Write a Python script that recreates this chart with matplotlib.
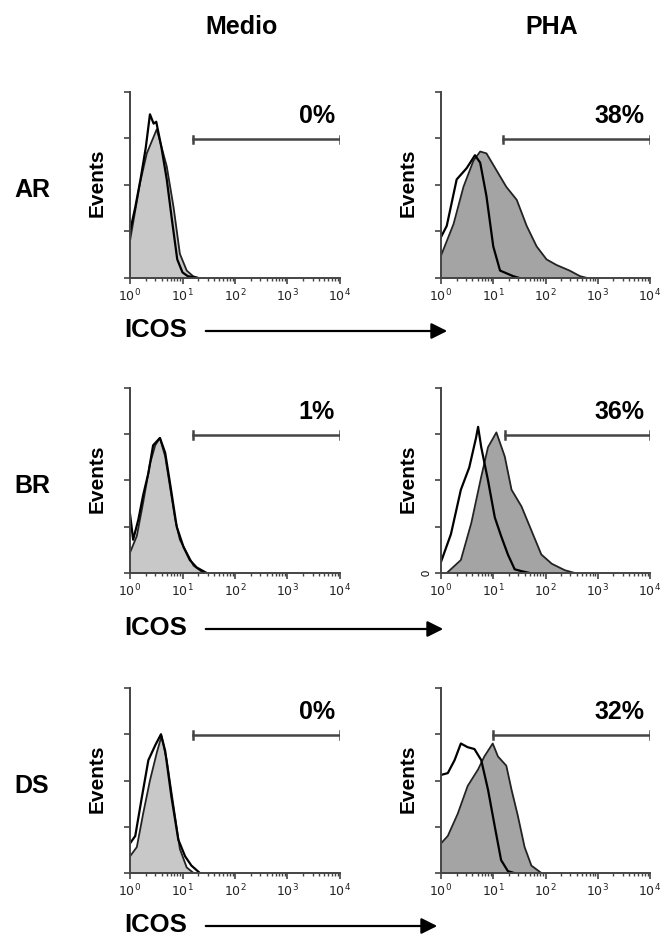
import matplotlib
matplotlib.use("Agg")
import matplotlib.pyplot as plt
import numpy as np

plt.rcParams["font.family"] = ["Liberation Sans", "DejaVu Sans"]

W, H = 663, 938

columns = ["Medio", "PHA"]
rows = ["AR", "BR", "DS"]
percentages = [["0%", "38%"], ["1%", "36%"], ["0%", "32%"]]
gate_start = [[1.2, 1.19], [1.2, 1.22], [1.2, 1.0]]   # log10 of gate start
zero_label = [[False, False], [False, True], [False, False]]

# histogram outlines: log10(ICOS) positions and % of max events
# AR
ar_medio_fill_x = [0.0, 0.19, 0.32, 0.51, 0.70, 0.83, 0.95, 1.08, 1.2, 1.3]
ar_medio_fill_y = [20, 51, 67, 80, 60, 38, 13, 4, 1, 0]
ar_medio_open_x = [0.0, 0.1, 0.2, 0.3, 0.38, 0.45, 0.5, 0.6, 0.7, 0.8, 0.9, 1.0, 1.1, 1.3]
ar_medio_open_y = [25, 38, 53, 70, 88, 83, 84, 70, 53, 31, 10, 3, 1, 0]
ar_pha_fill_x = [0.0, 0.24, 0.43, 0.62, 0.75, 0.87, 1.06, 1.25, 1.45, 1.64, 1.83, 2.02, 2.21, 2.46, 2.66, 2.8]
ar_pha_fill_y = [12, 29, 49, 63, 68, 67, 58, 49, 42, 28, 17, 10, 7, 4, 1, 0]
ar_pha_open_x = [0.0, 0.11, 0.3, 0.49, 0.65, 0.75, 0.87, 1.0, 1.13, 1.38, 1.5]
ar_pha_open_y = [22, 28, 53, 59, 66, 62, 44, 17, 4, 1, 0]
# BR
br_medio_fill_x = [0.0, 0.13, 0.25, 0.38, 0.48, 0.57, 0.67, 0.76, 0.86, 0.95, 1.08, 1.21, 1.4]
br_medio_fill_y = [11, 20, 38, 59, 69, 73, 63, 47, 29, 18, 11, 4, 0]
br_medio_open_x = [0.0, 0.06, 0.16, 0.25, 0.35, 0.44, 0.57, 0.67, 0.76, 0.89, 1.02, 1.14, 1.27, 1.46]
br_medio_open_y = [32, 18, 29, 42, 54, 69, 73, 65, 49, 25, 14, 7, 3, 0]
br_pha_fill_x = [0.13, 0.38, 0.58, 0.77, 0.9, 1.06, 1.22, 1.35, 1.54, 1.73, 1.92, 2.12, 2.37, 2.56]
br_pha_fill_y = [0.5, 7, 27, 52, 68, 76, 63, 45, 36, 23, 10, 5, 1.5, 0]
br_pha_open_x = [0.0, 0.19, 0.38, 0.54, 0.67, 0.71, 0.77, 0.9, 1.03, 1.15, 1.28, 1.41, 1.54, 1.7]
br_pha_open_y = [6, 21, 45, 57, 73, 79, 68, 50, 30, 20, 10, 2, 1, 0]
# DS
ds_medio_fill_x = [0.0, 0.13, 0.25, 0.38, 0.51, 0.6, 0.7, 0.83, 0.95, 1.08, 1.21]
ds_medio_fill_y = [9, 14, 32, 50, 65, 74, 61, 36, 13, 3, 0]
ds_medio_open_x = [0.0, 0.1, 0.22, 0.35, 0.48, 0.59, 0.67, 0.79, 0.92, 1.05, 1.17, 1.33]
ds_medio_open_y = [16, 20, 40, 61, 69, 75, 66, 41, 18, 9, 4, 0]
ds_pha_fill_x = [0.0, 0.13, 0.32, 0.51, 0.71, 0.83, 0.99, 1.09, 1.25, 1.35, 1.47, 1.6, 1.73, 1.92]
ds_pha_fill_y = [16, 20, 32, 47, 56, 63, 70, 63, 58, 45, 31, 14, 4, 0]
ds_pha_open_x = [0.0, 0.13, 0.26, 0.38, 0.51, 0.64, 0.77, 0.9, 1.03, 1.15, 1.28, 1.4]
ds_pha_open_y = [53, 54, 61, 70, 68, 67, 61, 45, 25, 7, 1, 0]

curves = [
    [(ar_medio_fill_x, ar_medio_fill_y, ar_medio_open_x, ar_medio_open_y),
     (ar_pha_fill_x, ar_pha_fill_y, ar_pha_open_x, ar_pha_open_y)],
    [(br_medio_fill_x, br_medio_fill_y, br_medio_open_x, br_medio_open_y),
     (br_pha_fill_x, br_pha_fill_y, br_pha_open_x, br_pha_open_y)],
    [(ds_medio_fill_x, ds_medio_fill_y, ds_medio_open_x, ds_medio_open_y),
     (ds_pha_fill_x, ds_pha_fill_y, ds_pha_open_x, ds_pha_open_y)],
]

fill_colors = ["#c8c8c8", "#a4a4a4"]
col_left = [130, 441]
col_right = [340, 650]
header_x = [242, 552]
row_top = [92, 388, 688]
row_bottom = [278, 573, 873]
icos_y = [331, 629, 926]
arrow_end = [450, 446, 440]

fig = plt.figure(figsize=(W / 100, H / 100), dpi=100)


def fx(px):
    return px / W


def fy(py):
    return 1 - py / H


for j, name in enumerate(columns):
    fig.text(fx(header_x[j]), fy(27), name,
             ha="center", va="center", fontsize=18, fontweight="bold")

for i, rname in enumerate(rows):
    fig.text(fx(32), fy((row_top[i] + row_bottom[i]) / 2 + 5), rname,
             ha="center", va="center", fontsize=18, fontweight="bold")
    for j in range(2):
        ax = fig.add_axes([fx(col_left[j]), fy(row_bottom[i]),
                           fx(col_right[j] - col_left[j]),
                           (row_bottom[i] - row_top[i]) / H])
        fxs, fys, oxs, oys = curves[i][j]
        fxv = 10 ** np.array(fxs)
        oxv = 10 ** np.array(oxs)
        ax.fill_between(fxv, fys, 0, color=fill_colors[j], lw=0)
        ax.plot(fxv, fys, color="#222222", lw=1.3)
        ax.plot(oxv, oys, color="black", lw=1.6)
        ax.set_xscale("log")
        ax.set_xlim(1, 1e4)
        ax.set_ylim(0, 100)
        ax.set_yticks([0, 25, 50, 75, 100])
        if zero_label[i][j]:
            ax.set_yticklabels(["0", "", "", "", ""], rotation=90,
                               va="center", fontsize=8)
        else:
            ax.set_yticklabels([])
        ax.set_xticks([1, 10, 100, 1000, 10000])
        ax.set_xticklabels(["$10^0$", "$10^1$", "$10^2$", "$10^3$", "$10^4$"],
                           fontsize=9, color="#222222")
        ax.tick_params(axis="both", which="major", length=4, width=1.2,
                       color="#444444", pad=3)
        ax.tick_params(axis="x", which="minor", length=2.5, width=1,
                       color="#444444")
        for s in ["top", "right"]:
            ax.spines[s].set_visible(False)
        for s in ["left", "bottom"]:
            ax.spines[s].set_color("#444444")
            ax.spines[s].set_linewidth(1.4)
        ax.patch.set_alpha(0)

        # gate marker
        g0 = 10 ** gate_start[i][j]
        ax.plot([g0, 1e4], [74.5, 74.5], color="#444444", lw=1.8)
        ax.plot([g0, g0], [72.5, 76.5], color="#444444", lw=1.8)
        ax.plot([1e4, 1e4], [72.5, 76.5], color="#444444", lw=1.8)
        ax.text(10 ** 3.9, 87, percentages[i][j], ha="right", va="center",
                fontsize=18, fontweight="bold")

        fig.text(fx(col_left[j] - 33), fy((row_top[i] + row_bottom[i]) / 2 - 2),
                 "Events", rotation=90, ha="center", va="center",
                 fontsize=15, fontweight="bold")

    fig.text(fx(156), fy(icos_y[i] - 1), "ICOS", ha="center", va="center",
             fontsize=18.5, fontweight="bold")
    fig.add_artist(matplotlib.patches.FancyArrowPatch(
        (fx(203), fy(icos_y[i])), (fx(arrow_end[i]), fy(icos_y[i])),
        transform=fig.transFigure, arrowstyle="-|>", mutation_scale=24,
        color="black", lw=1.6))

fig.savefig("out.png", dpi=100)
